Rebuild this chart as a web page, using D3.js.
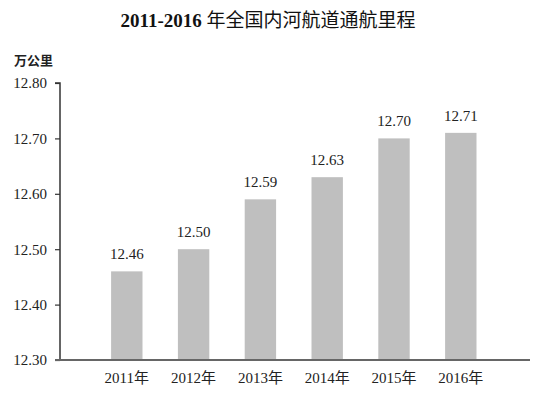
<!DOCTYPE html>
<html>
<head>
<meta charset="utf-8">
<script src="https://cdn.jsdelivr.net/npm/d3@7"></script>
<style>
  body { margin: 0; background: #fff; }
</style>
</head>
<body>
<div id="plot"></div>
<script>
  const years = ["2011年", "2012年", "2013年", "2014年", "2015年", "2016年"];
  const values = [12.46, 12.50, 12.59, 12.63, 12.70, 12.71];
  const yTicks = [12.30, 12.40, 12.50, 12.60, 12.70, 12.80];

  const w = 539;
  const h = 396;
  const serif = "'Liberation Serif', 'Times New Roman', 'Noto Sans CJK SC', serif";

  const svg = d3.select("div#plot")
      .append("svg")
      .attr("width", w)
      .attr("height", h);

  svg.append("rect")
      .attr("width", w)
      .attr("height", h)
      .attr("fill", "#fff");

  // title: bold digits, lighter CJK
  const title = svg.append("text")
      .attr("x", 268)
      .attr("y", 27)
      .attr("text-anchor", "middle")
      .style("font-family", serif)
      .style("font-size", "19px")
      .style("fill", "#111");
  title.append("tspan")
      .style("font-weight", "bold")
      .text("2011-2016 ");
  title.append("tspan")
      .style("font-weight", "normal")
      .text("年全国内河航道通航里程");

  // unit
  svg.append("text")
      .attr("x", 14)
      .attr("y", 65)
      .style("font-family", "'Noto Sans CJK SC', sans-serif")
      .style("font-size", "13px")
      .style("font-weight", "bold")
      .style("fill", "#222")
      .text("万公里");

  const axisX = 60;
  const step = 66.8;

  const x = d3.scaleBand()
      .domain(years)
      .range([axisX + step / 2, axisX + step * 6.5])
      .paddingInner(0.53)
      .paddingOuter(0.265);

  const y = d3.scaleLinear()
      .domain([12.30, 12.80])
      .range([360, 83]);

  const yAxis = d3.axisLeft(y)
      .tickValues(yTicks)
      .tickFormat(d3.format(".2f"))
      .tickSize(5)
      .tickPadding(8);

  const gy = svg.append("g")
      .attr("transform", `translate(${axisX},0)`)
      .call(yAxis)
      .attr("font-family", serif)
      .attr("font-size", 15);
  gy.select(".domain")
      .attr("d", `M-5,${y(12.80)}H0V${y(12.30)}`)
      .attr("stroke", "#333")
      .attr("stroke-width", 1.5);
  gy.selectAll(".tick line").attr("stroke", "#333").attr("stroke-width", 1.2);
  gy.selectAll(".tick text")
      .style("font-family", serif)
      .style("font-size", "15px")
      .style("fill", "#222");

  // bars
  svg.append("g")
      .selectAll("rect")
      .data(values)
      .enter().append("rect")
      .attr("x", (d, i) => x(years[i]))
      .attr("y", d => y(d))
      .attr("width", x.bandwidth())
      .attr("height", d => y(12.30) - y(d))
      .attr("fill", "#bfbfbf");

  // value labels
  svg.append("g")
      .selectAll("text")
      .data(values)
      .enter().append("text")
      .attr("x", (d, i) => x(years[i]) + x.bandwidth() / 2)
      .attr("y", d => y(d) - 12)
      .attr("text-anchor", "middle")
      .style("font-family", serif)
      .style("font-size", "15px")
      .style("fill", "#222")
      .text(d => d.toFixed(2));

  // bottom axis
  const xAxis = d3.axisBottom(x)
      .tickSize(0)
      .tickPadding(12);

  const gx = svg.append("g")
      .attr("transform", `translate(0,${y(12.30)})`)
      .call(xAxis)
      .attr("font-family", serif)
      .attr("font-size", 15);
  gx.select(".domain")
      .attr("d", `M${axisX - 5},0H530`)
      .attr("stroke", "#666")
      .attr("stroke-width", 2);
  gx.selectAll(".tick text")
      .style("font-family", serif)
      .style("font-size", "15px")
      .style("fill", "#222");
</script>
</body>
</html>
